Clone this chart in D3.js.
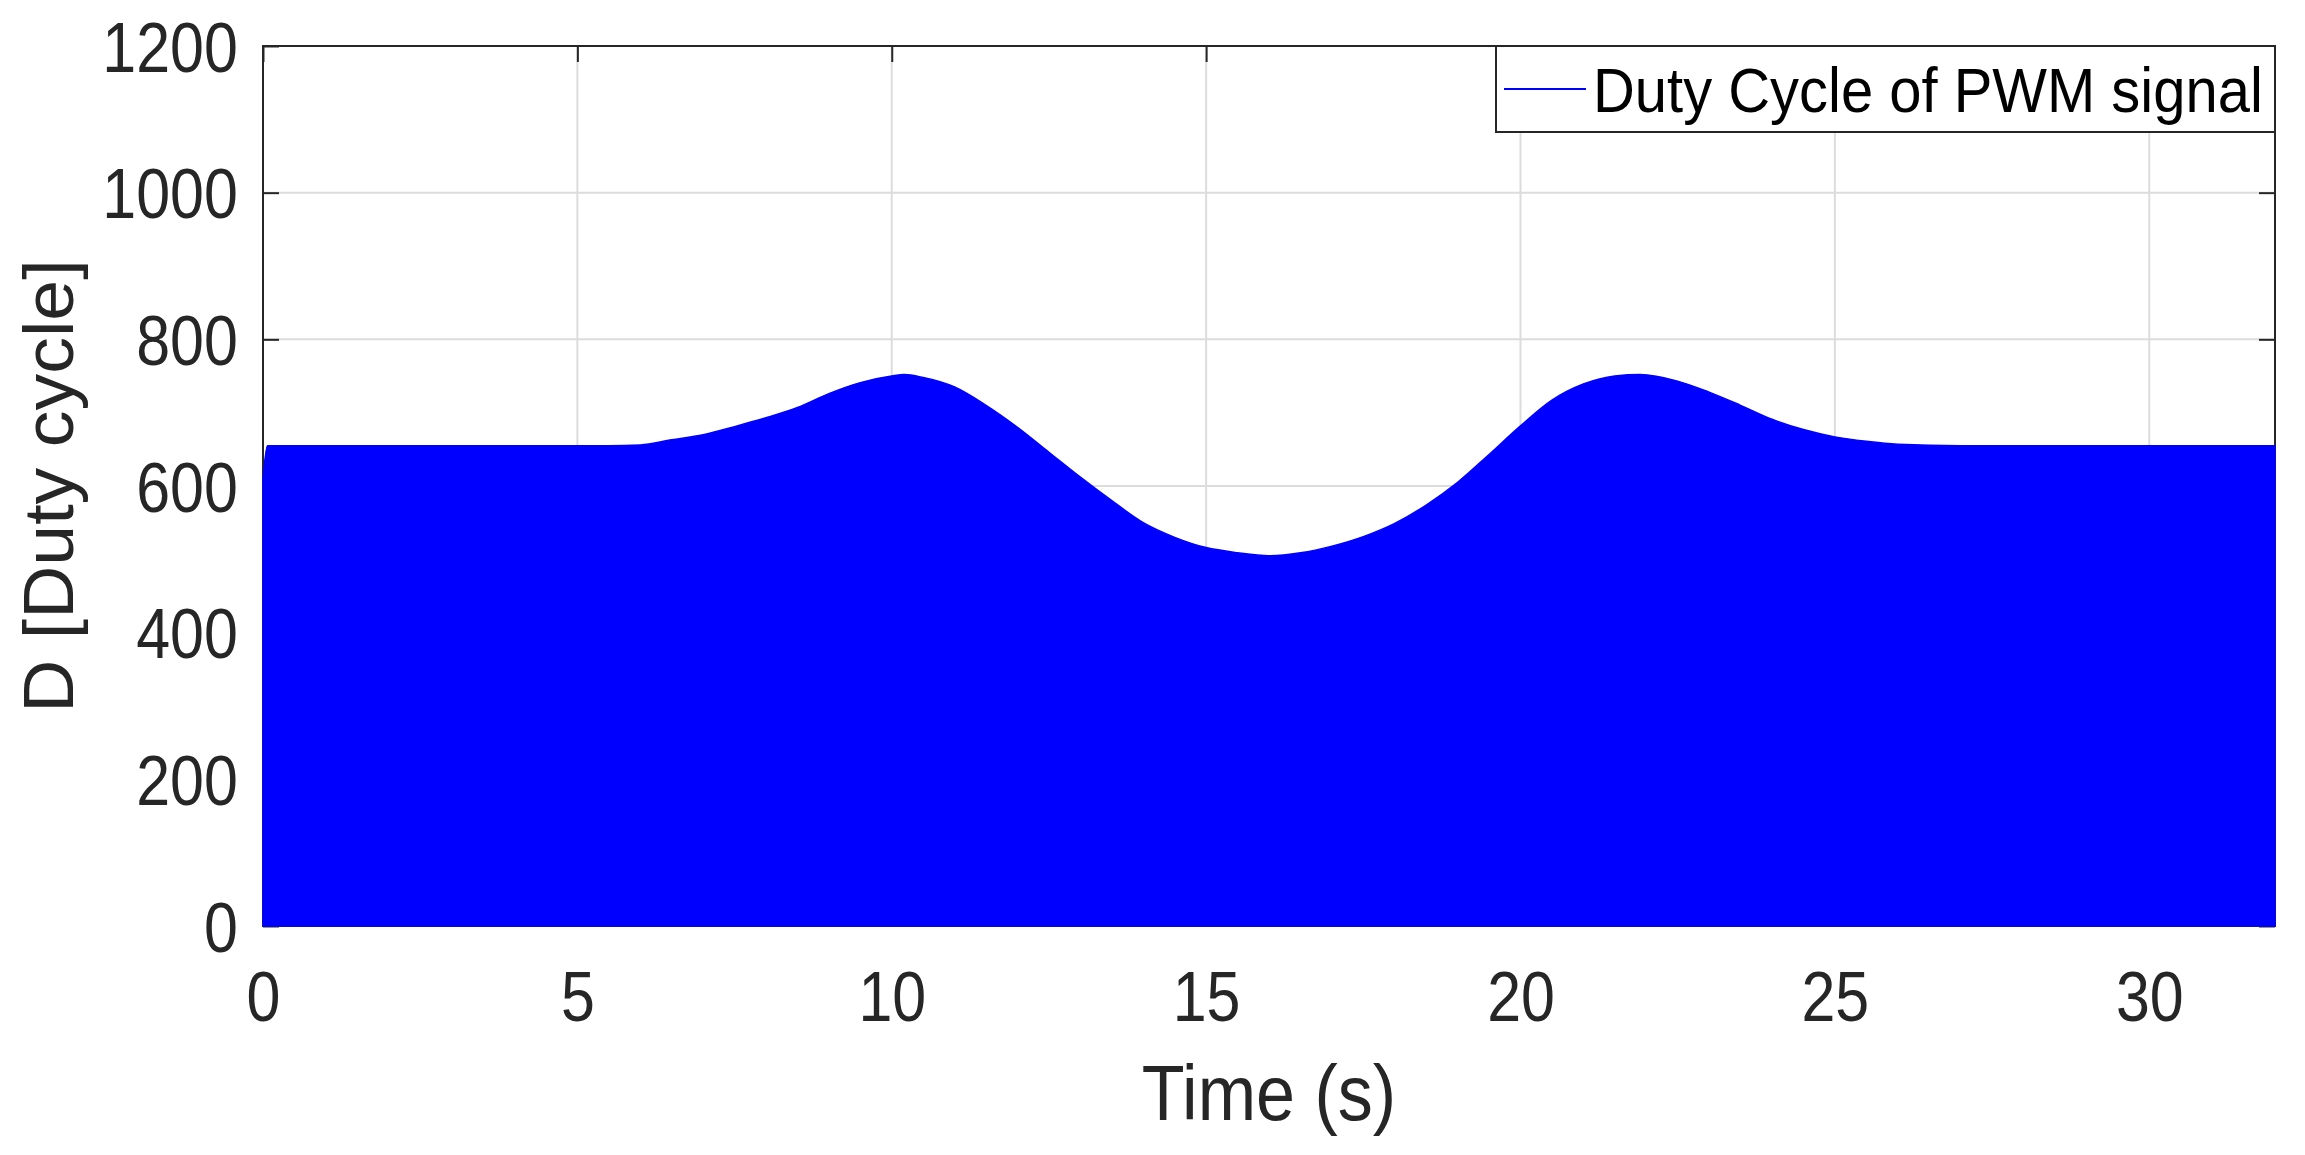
<!DOCTYPE html>
<html>
<head>
<meta charset="utf-8">
<script src="https://cdn.jsdelivr.net/npm/d3@7"></script>
<style>
  html, body { margin: 0; padding: 0; background: #fff; }
  svg { display: block; }
  text { font-family: "Liberation Sans", Arial, Helvetica, sans-serif; }
</style>
</head>
<body>
<svg id="chart" width="2305" height="1155"></svg>
<script>
// ---- data ----
// upper envelope of the PWM duty-cycle signal (the signal oscillates between 0 and this value)
const timeS = [0, 0.07, 1, 2, 3, 4, 5, 5.5, 6, 6.5, 7, 7.5, 8, 8.5, 9, 9.5, 10, 10.2, 10.5, 11, 11.5,
               12, 12.5, 13, 13.5, 14, 14.5, 15, 15.5, 16, 16.5, 17, 17.5, 18, 18.5, 19, 19.5, 20,
               20.5, 21, 21.5, 21.9, 22.5, 23, 23.5, 24, 24.5, 25, 25.5, 26, 27, 28, 29, 30, 31, 32];
const dutyPeak = [610, 655, 655, 655, 655, 655, 655, 655, 656, 663, 670, 681, 693, 707, 726, 741, 750, 752, 748, 735, 710,
                  680, 646, 612, 580, 550, 530, 516, 509, 505, 509, 518, 531, 549, 574, 605, 643, 682,
                  717, 739, 750, 752, 743, 728, 710, 691, 677, 667, 661, 657, 655, 655, 655, 655, 655, 655];
const dutyFloor = 0;
const xTicks = [0, 5, 10, 15, 20, 25, 30];
const yTicks = [0, 200, 400, 600, 800, 1000, 1200];
const xTitle = "Time (s)";
const yTitle = "D [Duty cycle]";
const legendLabel = "Duty Cycle of PWM signal";

// ---- layout ----
const L = 263, R = 2275, T = 46, B = 926;
const axisColor = "#262626";
const svg = d3.select("#chart");

const x = d3.scaleLinear().domain([0, 32]).range([L, R]);
const y = d3.scaleLinear().domain([0, 1200]).range([B, T]);

// grid
const grid = svg.append("g").attr("stroke", "#dcdcdc").attr("stroke-width", 2);
grid.selectAll("line.gx").data(xTicks).join("line")
  .attr("x1", d => x(d)).attr("x2", d => x(d)).attr("y1", T).attr("y2", B);
grid.selectAll("line.gy").data(yTicks).join("line")
  .attr("y1", d => y(d)).attr("y2", d => y(d)).attr("x1", L).attr("x2", R);

// axes
const tickScale = "scale(0.87,1)";
const fmt = d3.format("d");
const xAxis = svg.append("g").attr("transform", `translate(0,${B})`)
  .call(d3.axisBottom(x).tickValues(xTicks).tickFormat(fmt).tickSizeInner(-16).tickSizeOuter(0).tickPadding(45));
const yAxis = svg.append("g").attr("transform", `translate(${L},0)`)
  .call(d3.axisLeft(y).tickValues(yTicks).tickFormat(fmt).tickSizeInner(-16).tickSizeOuter(0).tickPadding(29));
svg.append("g").attr("transform", `translate(0,${T})`)
  .call(d3.axisTop(x).tickValues(xTicks).tickSizeInner(-16).tickSizeOuter(0).tickFormat(""));
svg.append("g").attr("transform", `translate(${R},0)`)
  .call(d3.axisRight(y).tickValues(yTicks).tickSizeInner(-16).tickSizeOuter(0).tickFormat(""));

svg.selectAll(".domain").remove();
svg.selectAll(".tick line").attr("stroke", axisColor).attr("stroke-width", 2);
[xAxis, yAxis].forEach(g => g.selectAll(".tick text")
  .attr("fill", axisColor).attr("font-size", 70)
  .attr("font-family", '"Liberation Sans", Arial, sans-serif')
  .attr("transform", tickScale));
yAxis.selectAll(".tick text").attr("dy", "0.36em");

// axes box
svg.append("rect").attr("x", L).attr("y", T).attr("width", R - L).attr("height", B - T)
  .attr("fill", "none").attr("stroke", axisColor).attr("stroke-width", 2);

// signal (dense PWM -> filled between 0 and the envelope)
const pts = timeS.map((t, i) => ({ t, v: dutyPeak[i] }));
const area = d3.area()
  .x(d => x(d.t))
  .y0(() => y(dutyFloor))
  .y1(d => y(d.v))
  .curve(d3.curveMonotoneX);
svg.append("path").datum(pts).attr("d", area).attr("fill", "#0000ff")
  .attr("stroke", "#0000ff").attr("stroke-width", 1.5);

// axis titles
svg.append("text").attr("transform", `translate(${(L + R) / 2},1120) scale(0.91,1)`)
  .attr("text-anchor", "middle").attr("font-size", 77).attr("fill", axisColor).text(xTitle);
svg.append("text").attr("transform", `translate(73,${(T + B) / 2}) rotate(-90) scale(1.05,1)`)
  .attr("text-anchor", "middle").attr("font-size", 70).attr("fill", axisColor).text(yTitle);

// legend
const lg = svg.append("g");
lg.append("rect").attr("x", 1496).attr("y", T).attr("width", R - 1496).attr("height", 86)
  .attr("fill", "#fff").attr("stroke", axisColor).attr("stroke-width", 2);
lg.append("line").attr("x1", 1504).attr("x2", 1586).attr("y1", 89).attr("y2", 89)
  .attr("stroke", "#0000ff").attr("stroke-width", 2);
lg.append("text").attr("transform", "translate(1593,112) scale(0.92,1)")
  .attr("font-size", 63).attr("fill", "#000").text(legendLabel);
</script>
</body>
</html>
